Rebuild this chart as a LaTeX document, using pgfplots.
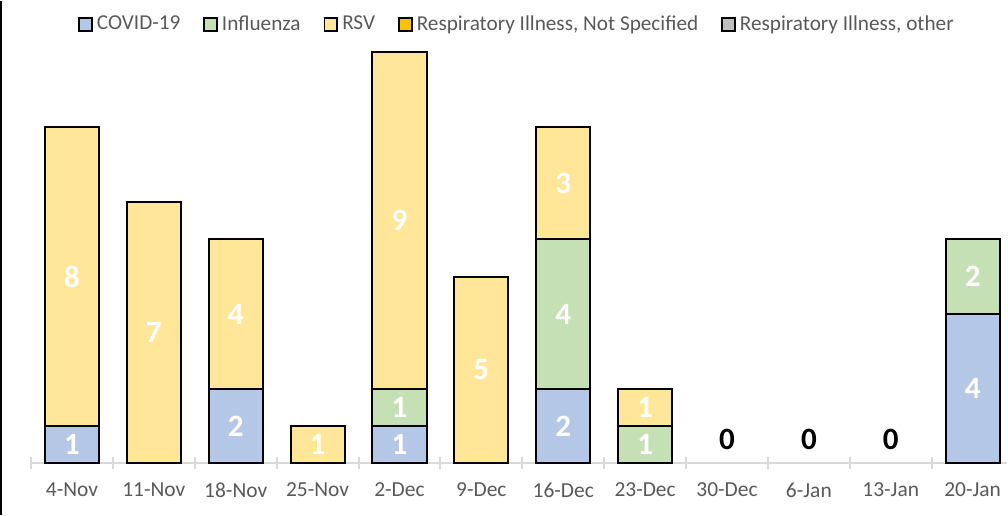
\documentclass[border=0pt]{standalone}
\usepackage{pgfplots}
\pgfplotsset{compat=1.18}
\usepackage{pgfplotstable}
\usepackage{fontspec}
\setmainfont{Carlito}
\definecolor{cblue}{HTML}{B4C7E7}
\definecolor{cgreen}{HTML}{C5E0B4}
\definecolor{cyellow}{HTML}{FFE699}
\definecolor{corange}{HTML}{FFC000}
\definecolor{cgray}{HTML}{BFBFBF}
\definecolor{ctext}{HTML}{595959}
\definecolor{caxis}{HTML}{D9D9D9}
% x = category index, top = top of segment (stack), v = segment value
\pgfplotstableread{
x top v
0 1 1
2 2 2
4 1 1
6 2 2
11 4 4
}\covid
\pgfplotstableread{
x top v
4 2 1
6 6 4
7 1 1
11 6 2
}\flu
\pgfplotstableread{
x top v
0 9 8
1 7 7
2 6 4
3 1 1
4 11 9
5 5 5
6 9 3
7 2 1
}\rsv
\pgfplotstableread{
x top v
8 0 0
9 0 0
10 0 0
}\zero
\begin{document}
\begin{tikzpicture}
\begin{axis}[
  scale only axis,
  width=487.5pt, height=211pt,
  xmin=-0.5, xmax=11.42,
  ymin=0, ymax=11.3,
  clip=false,
  /pgf/number format/assume math mode=true,
  axis y line=none,
  axis x line*=bottom,
  x axis line style={draw=caxis, line width=1pt},
  xtick={0,...,11},
  xticklabels={4-Nov,11-Nov,18-Nov,25-Nov,2-Dec,9-Dec,16-Dec,23-Dec,30-Dec,6-Jan,13-Jan,20-Jan},
  major tick length=0pt,
  extra x ticks={-0.5,0.5,1.5,2.5,3.5,4.5,5.5,6.5,7.5,8.5,9.5,10.5},
  extra x tick labels={},
  extra x tick style={major tick length=6pt, tick align=center, tick style={draw=caxis, line width=1pt}},
  xticklabel style={font=\fontsize{10.7}{12}\selectfont, text=ctext, yshift=-6pt},
  ybar, bar shift=0pt, bar width=27pt,
  every axis plot/.append style={draw=black, line width=1pt},
  nodes near coords,
  point meta=explicit,
  nodes near coords style={font=\fontsize{15.5}{16}\bfseries\selectfont, text=white, anchor=center,
     shift={(axis direction cs:0,-\segv/2)}},
  visualization depends on={\thisrow{v}\as\segv},
  legend style={draw=none, fill=none, at={(axis description cs:0.499,1.039)}, anchor=center,
     legend columns=-1, font=\fontsize{10.6}{12}\selectfont, text=ctext,
     /tikz/every even column/.append style={column sep=9.5pt},
     inner sep=0pt},
  legend image code/.code={\draw[#1, draw=black, line width=0.9pt] (0pt,-3.2pt) rectangle (6.4pt,3.2pt);},
]
\addplot[fill=cyellow, forget plot] table[x=x, y=top, meta=v] {\rsv};
\addplot[fill=cgreen, forget plot] table[x=x, y=top, meta=v] {\flu};
\addplot[fill=cblue, forget plot] table[x=x, y=top, meta=v] {\covid};
\addplot[draw=none, fill=none, forget plot, nodes near coords style={text=black, anchor=south, shift={(axis direction cs:0,0)}, yshift=3pt}] table[x=x, y=top, meta=v] {\zero};
\addlegendimage{fill=cblue}\addlegendentry{COVID-19}
\addlegendimage{fill=cgreen}\addlegendentry{Influenza}
\addlegendimage{fill=cyellow}\addlegendentry{RSV}
\addlegendimage{fill=corange}\addlegendentry{Respiratory Illness, Not Specified}
\addlegendimage{fill=cgray}\addlegendentry{Respiratory Illness, other}
\draw[black, line width=1pt] (axis description cs:-0.03077,-0.1209) -- (axis description cs:-0.03077,1.0948);
\end{axis}
\end{tikzpicture}
\end{document}
